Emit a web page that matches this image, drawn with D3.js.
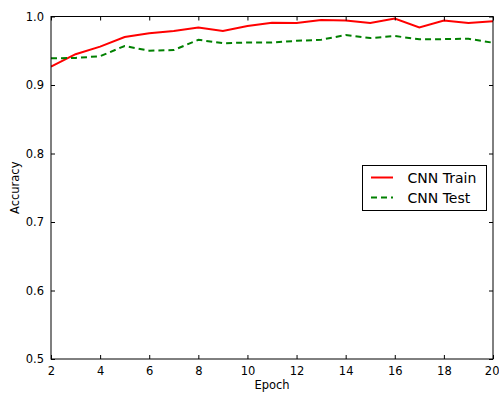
<!DOCTYPE html>
<html><head><meta charset="utf-8">
<script src="https://cdn.jsdelivr.net/npm/d3@7"></script>
<style>body{margin:0;background:#fff}svg{display:block}</style>
</head><body>
<script>
const epochs = [2,3,4,5,6,7,8,9,10,11,12,13,14,15,16,17,18,19,20];
const trainAcc = [0.927,0.945,0.956,0.970,0.9755,0.979,0.984,0.979,0.986,0.991,0.9905,0.995,0.994,0.9905,0.997,0.984,0.994,0.9905,0.993];
const testAcc = [0.939,0.9395,0.942,0.957,0.950,0.951,0.966,0.961,0.962,0.962,0.9645,0.966,0.973,0.9685,0.9715,0.9667,0.967,0.9675,0.9617];
const xTicks = [2,4,6,8,10,12,14,16,18,20];
const yTicks = [0.5,0.6,0.7,0.8,0.9,1.0];
const seriesNames = ["CNN Train","CNN Test"];

const W = 499, H = 394;
const m = {l:51, r:6, t:16.5, b:35};
const svg = d3.select("body").append("svg").attr("width",W).attr("height",H);
const x = d3.scaleLinear().domain([2,20]).range([m.l, W-m.r]);
const y = d3.scaleLinear().domain([0.5,1.0]).range([H-m.b, m.t]);
const font = "DejaVu Sans";

const g = svg.append("g");
const line = d3.line().x((d,i)=>x(epochs[i])).y(d=>y(d));
svg.append("defs").append("clipPath").attr("id","c").append("rect")
  .attr("x",m.l).attr("y",m.t).attr("width",W-m.r-m.l).attr("height",H-m.b-m.t);
g.append("path").datum(trainAcc).attr("d",line).attr("fill","none").attr("stroke","#ff0000").attr("stroke-width",2).attr("clip-path","url(#c)");
g.append("path").datum(testAcc).attr("d",line).attr("fill","none").attr("stroke","#008000").attr("stroke-width",2).attr("stroke-dasharray","6,4").attr("clip-path","url(#c)");

const ax = svg.append("g");
const bx = ax.append("g").attr("transform",`translate(0,${H-m.b})`)
  .call(d3.axisBottom(x).tickValues(xTicks).tickSizeInner(-4).tickSizeOuter(0).tickPadding(8).tickFormat(d3.format("d")));
ax.append("g").attr("transform",`translate(0,${m.t})`)
  .call(d3.axisTop(x).tickValues(xTicks).tickSizeInner(-4).tickSizeOuter(0).tickFormat(""));
ax.append("g").attr("transform",`translate(${m.l},0)`)
  .call(d3.axisLeft(y).tickValues(yTicks).tickSizeInner(-4).tickSizeOuter(0).tickPadding(7).tickFormat(d3.format(".1f")));
ax.append("g").attr("transform",`translate(${W-m.r},0)`)
  .call(d3.axisRight(y).tickValues(yTicks).tickSizeInner(-4).tickSizeOuter(0).tickFormat(""));
ax.selectAll(".domain").remove();
ax.selectAll(".tick line").attr("stroke","#000").attr("stroke-width",1);
ax.selectAll("text").attr("font-family",font).attr("font-size",11.5).attr("fill","#000");
// keep last x label inside the canvas
bx.selectAll(".tick text").filter(d=>d===20).attr("text-anchor","end").attr("x",W-m.r-x(20)+6);
ax.append("rect").attr("x",m.l).attr("y",m.t).attr("width",W-m.r-m.l).attr("height",H-m.b-m.t)
  .attr("fill","none").attr("stroke","#000").attr("stroke-width",1);

svg.append("text").attr("x",(m.l+W-m.r)/2).attr("y",H-5).attr("text-anchor","middle")
  .attr("font-family",font).attr("font-size",11.5).text("Epoch");
svg.append("text").attr("transform",`translate(19,${(m.t+H-m.b)/2}) rotate(-90)`).attr("text-anchor","middle")
  .attr("font-family",font).attr("font-size",11.5).text("Accuracy");

const lg = svg.append("g");
lg.append("rect").attr("x",362.5).attr("y",165.5).attr("width",124).attr("height",45)
  .attr("fill","#fff").attr("stroke","#000").attr("stroke-width",1);
const colors = ["#ff0000","#008000"], dashes = [null,"6,4"];
seriesNames.forEach((n,i)=>{
  const yy = 177.5 + i*20;
  lg.append("line").attr("x1",371).attr("x2",393).attr("y1",yy).attr("y2",yy)
    .attr("stroke",colors[i]).attr("stroke-width",2).attr("stroke-dasharray",dashes[i]);
  lg.append("text").attr("x",407.5).attr("y",yy).attr("dy","0.36em")
    .attr("font-family",font).attr("font-size",14).text(n);
});
</script>
</body></html>
